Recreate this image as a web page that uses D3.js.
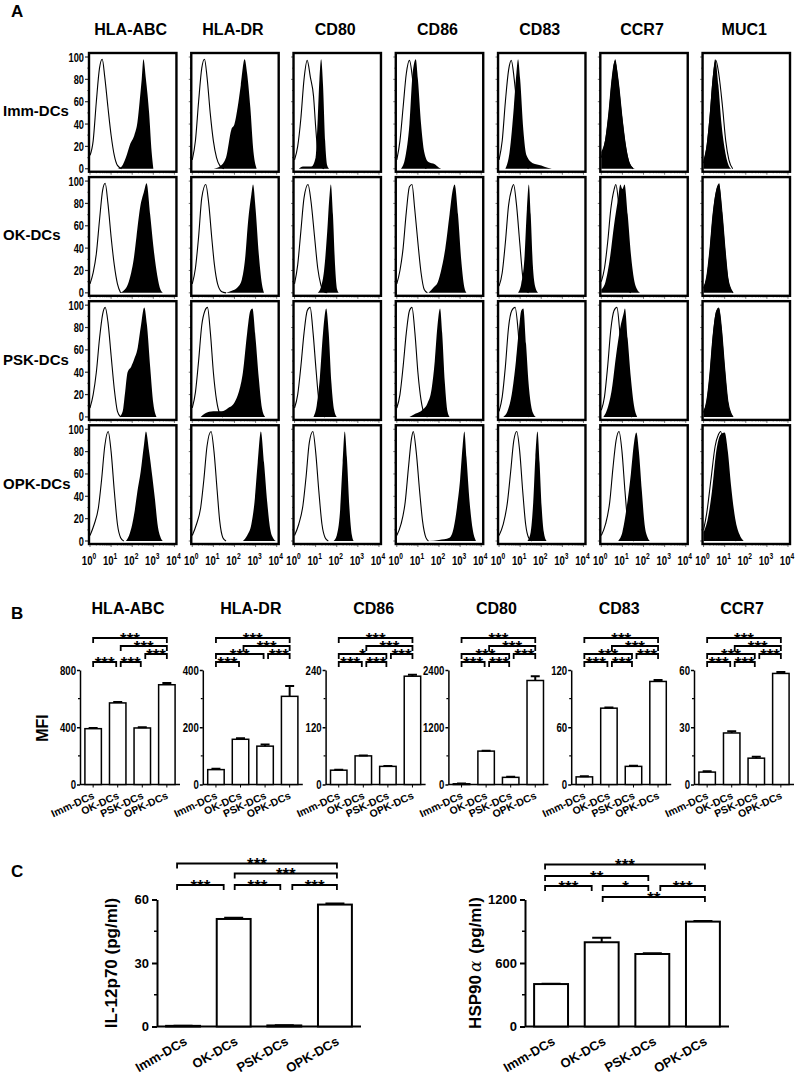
<!DOCTYPE html>
<html>
<head>
<meta charset="utf-8">
<script src="https://cdn.jsdelivr.net/npm/d3@7"></script>
<style>
  body { margin: 0; background: #fff; }
  svg { display: block; }
  text { fill: #000; }
</style>
</head>
<body>
<div id="container"></div>
<script>
const groups = ["Imm-DCs", "OK-DCs", "PSK-DCs", "OPK-DCs"];
const histMarkers = ["HLA-ABC", "HLA-DR", "CD80", "CD86", "CD83", "CCR7", "MUC1"];

// flow histograms: [log10 intensity, % of max]
// order inside each array follows histMarkers
const immOpen = [
  [[0,12],[0.15,25],[0.3,60],[0.45,90],[0.58,98],[0.7,82],[0.85,55],[1.0,30],[1.15,12],[1.3,3],[1.5,0]],
  [[0,8],[0.15,25],[0.3,60],[0.45,90],[0.58,98],[0.7,82],[0.85,50],[1.0,25],[1.15,10],[1.3,3],[1.5,0]],
  [[0,8],[0.15,20],[0.3,45],[0.45,80],[0.6,97],[0.75,82],[0.9,65],[1.0,38],[1.1,15],[1.25,2],[1.4,0]],
  [[0,8],[0.15,25],[0.3,55],[0.45,85],[0.6,97],[0.75,80],[0.9,50],[1.05,20],[1.2,5],[1.4,0]],
  [[0,8],[0.15,25],[0.3,60],[0.45,88],[0.58,97],[0.72,80],[0.9,45],[1.05,15],[1.2,4],[1.4,0]],
  [[0,10],[0.2,25],[0.35,48],[0.5,78],[0.64,96],[0.8,78],[1.0,42],[1.15,20],[1.3,6],[1.5,0]],
  [[0,5],[0.15,18],[0.3,45],[0.45,80],[0.58,97],[0.72,85],[0.9,55],[1.05,25],[1.2,8],[1.38,0]]
];
const immFill = [
  [[1.3,0],[1.5,2],[1.7,10],[1.9,22],[2.1,30],[2.25,42],[2.35,60],[2.45,80],[2.53,98],[2.65,80],[2.8,50],[2.92,15],[3.0,0]],
  [[1.0,0],[1.3,2],[1.6,10],[1.85,35],[2.0,40],[2.15,55],[2.3,75],[2.48,98],[2.6,85],[2.75,55],[2.9,15],[3.05,0]],
  [[0.2,0],[0.4,2],[0.8,2],[1.0,10],[1.1,45],[1.18,80],[1.26,98],[1.35,75],[1.45,25],[1.55,3],[1.65,0]],
  [[0.2,0],[0.4,10],[0.6,40],[0.75,85],[0.9,98],[1.0,80],[1.15,40],[1.3,15],[1.5,6],[1.8,4],[2.0,1],[2.1,0]],
  [[0.3,0],[0.5,15],[0.7,55],[0.82,85],[0.9,98],[1.0,80],[1.15,35],[1.3,12],[1.6,5],[2.0,3],[2.3,1],[2.5,0]],
  [[0,15],[0.2,28],[0.35,50],[0.5,80],[0.66,98],[0.8,80],[1.0,45],[1.15,22],[1.3,8],[1.5,1],[1.6,0]],
  [[0,8],[0.15,22],[0.3,50],[0.45,85],[0.55,98],[0.7,75],[0.85,40],[1.0,18],[1.15,5],[1.3,0]]
];
const okOpen = [
  [[0,8],[0.15,18],[0.3,35],[0.45,65],[0.6,92],[0.72,98],[0.85,80],[1.0,50],[1.15,25],[1.3,8],[1.45,0]],
  [[0,8],[0.15,22],[0.3,50],[0.45,85],[0.64,97],[0.78,80],[0.92,50],[1.05,25],[1.2,8],[1.4,1],[1.6,0]],
  [[0,8],[0.15,25],[0.3,55],[0.45,85],[0.64,97],[0.78,82],[0.95,50],[1.1,22],[1.25,7],[1.4,1],[1.55,0]],
  [[0,8],[0.15,20],[0.3,40],[0.45,72],[0.6,95],[0.72,97],[0.85,75],[1.0,45],[1.15,18],[1.3,3],[1.45,0]],
  [[0,6],[0.15,18],[0.3,45],[0.45,78],[0.6,93],[0.69,97],[0.82,80],[0.98,45],[1.12,15],[1.25,3],[1.4,0]],
  [[0,10],[0.15,22],[0.3,45],[0.45,75],[0.6,92],[0.69,97],[0.82,80],[0.98,45],[1.12,15],[1.25,3],[1.4,0]],
  [[0,4],[0.15,14],[0.3,38],[0.45,70],[0.6,90],[0.72,96],[0.88,70],[1.02,38],[1.15,13],[1.3,3],[1.4,0]]
];
const okFill = [
  [[1.4,0],[1.6,2],[1.8,8],[1.95,18],[2.07,30],[2.2,50],[2.38,77],[2.55,90],[2.68,98],[2.85,70],[3.0,42],[3.14,21],[3.3,5],[3.45,0]],
  [[1.6,0],[1.9,2],[2.15,5],[2.35,12],[2.5,30],[2.65,65],[2.8,88],[2.88,97],[3.0,75],[3.15,35],[3.3,8],[3.4,0]],
  [[1.1,0],[1.25,5],[1.4,20],[1.55,55],[1.65,85],[1.72,97],[1.82,70],[1.92,25],[2.02,3],[2.1,0]],
  [[1.5,0],[1.75,5],[1.95,10],[2.1,20],[2.3,40],[2.5,70],[2.65,92],[2.74,97],[2.9,70],[3.05,30],[3.2,5],[3.3,0]],
  [[0.9,0],[1.05,8],[1.2,30],[1.32,75],[1.41,97],[1.5,70],[1.6,25],[1.72,5],[1.85,0]],
  [[0,3],[0.2,10],[0.4,30],[0.6,60],[0.8,85],[0.9,97],[1.0,93],[1.1,97],[1.25,70],[1.4,35],[1.55,12],[1.7,3],[1.85,0]],
  [[0,5],[0.15,15],[0.3,40],[0.45,72],[0.6,92],[0.74,98],[0.88,72],[1.02,40],[1.15,15],[1.28,4],[1.4,0]]
];
const pskOpen = [
  [[0,8],[0.15,20],[0.3,40],[0.45,70],[0.6,92],[0.72,98],[0.85,85],[1.0,55],[1.15,25],[1.3,5],[1.45,0]],
  [[0,8],[0.15,22],[0.3,50],[0.45,82],[0.6,95],[0.72,98],[0.86,75],[1.0,40],[1.15,15],[1.3,3],[1.45,0]],
  [[0,8],[0.15,20],[0.3,45],[0.45,75],[0.6,95],[0.74,98],[0.88,75],[1.02,42],[1.15,15],[1.3,3],[1.45,0]],
  [[0,8],[0.15,20],[0.3,45],[0.45,75],[0.6,95],[0.72,98],[0.86,75],[1.0,40],[1.15,15],[1.3,3],[1.45,0]],
  [[0,5],[0.15,18],[0.3,45],[0.45,80],[0.6,95],[0.76,98],[0.9,78],[1.02,45],[1.15,15],[1.28,3],[1.4,0]],
  [[0,6],[0.15,18],[0.3,45],[0.45,78],[0.6,95],[0.74,98],[0.88,75],[1.02,42],[1.15,15],[1.3,3],[1.45,0]],
  [[0,4],[0.15,14],[0.3,38],[0.45,72],[0.6,93],[0.72,97],[0.85,78],[1.0,43],[1.15,14],[1.3,3],[1.4,0]]
];
const pskFill = [
  [[1.4,0],[1.55,5],[1.65,20],[1.78,40],[1.95,45],[2.1,52],[2.24,60],[2.4,80],[2.57,98],[2.7,82],[2.85,45],[3.0,12],[3.15,0]],
  [[0.4,0],[0.6,3],[1.0,5],[1.4,5],[1.7,8],[2.0,13],[2.2,22],[2.4,40],[2.6,75],[2.75,95],[2.85,97],[3.0,70],[3.15,35],[3.3,8],[3.45,0]],
  [[0.9,0],[1.05,10],[1.2,35],[1.35,75],[1.5,97],[1.62,75],[1.75,30],[1.88,6],[2.0,0]],
  [[0.6,0],[0.9,3],[1.2,6],[1.45,12],[1.65,25],[1.8,50],[1.92,80],[2.05,97],[2.15,75],[2.28,30],[2.4,5],[2.5,0]],
  [[0.2,0],[0.4,5],[0.6,20],[0.8,50],[0.95,80],[1.05,95],[1.15,97],[1.28,65],[1.4,30],[1.52,10],[1.65,2],[1.75,0]],
  [[0.1,0],[0.3,8],[0.5,25],[0.7,55],[0.9,80],[1.05,92],[1.12,97],[1.25,70],[1.4,35],[1.55,10],[1.7,0]],
  [[0,5],[0.15,15],[0.3,40],[0.45,75],[0.6,95],[0.72,98],[0.85,80],[1.0,45],[1.15,15],[1.3,3],[1.4,0]]
];
const opkOpen = [
  [[0,5],[0.2,15],[0.4,30],[0.55,55],[0.7,85],[0.86,98],[1.0,80],[1.15,45],[1.3,15],[1.45,3],[1.6,0]],
  [[0,5],[0.2,15],[0.4,30],[0.55,55],[0.7,85],[0.89,98],[1.03,80],[1.18,45],[1.3,18],[1.45,3],[1.6,0]],
  [[0,5],[0.2,15],[0.4,32],[0.55,58],[0.7,88],[0.87,98],[1.0,80],[1.15,45],[1.3,15],[1.45,3],[1.6,0]],
  [[0,5],[0.2,15],[0.4,35],[0.55,65],[0.7,92],[0.78,98],[0.92,80],[1.08,45],[1.22,18],[1.38,3],[1.5,0]],
  [[0,5],[0.2,15],[0.4,35],[0.55,62],[0.7,90],[0.84,98],[0.98,80],[1.12,45],[1.26,15],[1.4,3],[1.55,0]],
  [[0,5],[0.2,15],[0.4,35],[0.55,65],[0.7,90],[0.84,98],[0.98,80],[1.12,45],[1.26,15],[1.4,3],[1.55,0]],
  [[0,10],[0.15,25],[0.35,55],[0.55,85],[0.7,95],[0.81,98],[0.95,80],[1.1,45],[1.25,18],[1.4,5],[1.55,0]]
];
const opkFill = [
  [[1.7,0],[1.85,5],[2.0,15],[2.1,25],[2.25,45],[2.4,62],[2.55,85],[2.65,98],[2.8,80],[2.95,58],[3.08,37],[3.2,15],[3.35,3],[3.45,0]],
  [[2.4,0],[2.6,5],[2.8,15],[2.95,35],[3.1,70],[3.25,98],[3.4,70],[3.55,35],[3.7,10],[3.85,2],[3.95,0]],
  [[1.85,0],[2.0,5],[2.15,25],[2.28,70],[2.38,98],[2.48,75],[2.6,30],[2.72,5],[2.8,0]],
  [[1.5,0],[2.0,1],[2.5,3],[2.7,12],[2.85,30],[3.0,55],[3.12,85],[3.2,98],[3.3,75],[3.45,35],[3.6,10],[3.75,0]],
  [[1.35,0],[1.5,8],[1.62,35],[1.72,75],[1.82,98],[1.92,70],[2.02,30],[2.12,8],[2.25,0]],
  [[0.8,0],[1.0,8],[1.2,30],[1.4,60],[1.55,88],[1.66,97],[1.78,80],[1.92,45],[2.05,15],[2.2,3],[2.3,0]],
  [[0,8],[0.2,20],[0.4,45],[0.6,80],[0.8,95],[1.0,97],[1.15,80],[1.3,50],[1.5,20],[1.7,6],[1.9,0]]
];
const histOpen = [immOpen, okOpen, pskOpen, opkOpen];
const histFill = [immFill, okFill, pskFill, opkFill];

// panel B: MFI bar charts
const mfiMarkers = ["HLA-ABC", "HLA-DR", "CD86", "CD80", "CD83", "CCR7"];
const mfiMax = [800, 400, 240, 2400, 120, 60];
const mfiMean = [
  [390, 570, 395, 697],
  [52, 158, 134, 308],
  [30, 60, 38, 227],
  [15, 700, 150, 2180],
  [8, 80, 19, 108],
  [6.5, 27, 13.8, 58.2]
];
const mfiErr = [
  [5, 6, 5, 12],
  [3, 4, 6, 36],
  [1, 1, 1, 3],
  [5, 10, 10, 90],
  [0.6, 0.8, 0.6, 1.5],
  [0.4, 0.9, 0.7, 0.8]
];
// [from, to, label, level]
const mfiSig = [
  [[0,3,"***",0],[1,3,"***",1],[2,3,"***",2],[0,1,"***",3],[1,2,"***",3]],
  [[0,3,"***",0],[1,3,"***",1],[0,2,"***",2],[2,3,"***",2],[0,1,"***",3]],
  [[0,3,"***",0],[1,3,"***",1],[0,2,"*",2],[2,3,"***",2],[0,1,"***",3],[1,2,"***",3]],
  [[0,3,"***",0],[1,3,"***",1],[0,2,"***",2],[2,3,"***",2],[0,1,"***",3],[1,2,"***",3]],
  [[0,3,"***",0],[1,3,"***",1],[0,2,"***",2],[2,3,"***",2],[0,1,"***",3],[1,2,"***",3]],
  [[0,3,"***",0],[1,3,"***",1],[0,2,"***",2],[2,3,"***",2],[0,1,"***",3],[1,2,"***",3]]
];

// panel C: cytokines
const il12Mean = [0.3, 50.8, 0.5, 57.6];
const il12Err = [0.1, 0.6, 0.1, 0.5];
const il12Sig = [[0,3,"***",0],[1,3,"***",1],[0,1,"***",2],[1,2,"***",2],[2,3,"***",2]];
const hspMean = [401, 796, 685, 991];
const hspErr = [4, 42, 6, 5];
const hspSig = [[0,3,"***",0],[0,2,"**",1],[0,1,"***",2],[1,2,"*",2],[2,3,"***",2],[1,3,"**",3]];

const width = 800, height = 1078;
const squeeze = 0.74; // condensed look of the tick numbers

const svg = d3.select("#container").append("svg")
  .attr("width", width)
  .attr("height", height)
  .style("font-family", "Arial, 'Liberation Sans', sans-serif");

[["A", 17], ["B", 619], ["C", 877]].forEach(([t, y]) => {
  svg.append("text").attr("x", 11).attr("y", y)
    .attr("font-size", 17).attr("font-weight", "bold").text(t);
});

// ---------------- A: histograms ----------------
const col = d3.scaleBand().domain(histMarkers).range([89, 790]).paddingInner(0.145);
const row = d3.scaleBand().domain(groups).range([53, 544]).paddingInner(0.043);
const bw = col.bandwidth(), bh = row.bandwidth();
const hx = d3.scaleLinear().domain([0, 4]).range([1, bw - 2]);
const hy = d3.scaleLinear().domain([0, 100]).range([bh - 3, 4]);
const area = d3.area().x(d => hx(d[0])).y0(hy(0)).y1(d => hy(d[1])).curve(d3.curveMonotoneX);
const line = d3.line().x(d => hx(d[0])).y(d => hy(d[1])).curve(d3.curveMonotoneX);

histMarkers.forEach(m => {
  svg.append("text")
    .attr("x", col(m) + bw / 2 - 2).attr("y", 35)
    .attr("text-anchor", "middle")
    .attr("font-size", 16).attr("font-weight", "bold")
    .text(m);
});

groups.forEach((grp, r) => {
  svg.append("text")
    .attr("x", 3).attr("y", row(grp) + bh / 2 + 4)
    .attr("font-size", 15).attr("font-weight", "bold")
    .text(grp);

  histMarkers.forEach((m, c) => {
    const g = svg.append("g").attr("transform", `translate(${col(m)},${row(grp)})`);

    g.append("path").datum(histFill[r][c]).attr("d", area).attr("fill", "#000");
    g.append("path").datum(histOpen[r][c]).attr("d", line)
      .attr("fill", "none").attr("stroke", "#000").attr("stroke-width", 1.1);

    // small ticks on left and bottom edges
    const big = c === 0;
    g.selectAll(".yt").data(d3.range(0, 101, 10)).join("line")
      .attr("x1", 0).attr("x2", d => (d % 20 ? -1.5 : (big ? -4 : -2.5)))
      .attr("y1", d => hy(d)).attr("y2", d => hy(d))
      .attr("stroke", "#333").attr("stroke-width", big ? 1.2 : 0.7);
    const xt = [];
    for (let k = 0; k < 4; k++) for (let j = 1; j < 10; j++) xt.push({ v: k + Math.log10(j), major: j === 1 });
    xt.push({ v: 4, major: true });
    g.selectAll(".xt").data(xt).join("line")
      .attr("x1", d => hx(d.v)).attr("x2", d => hx(d.v))
      .attr("y1", bh).attr("y2", d => bh + (d.major ? 3 : 1.5))
      .attr("stroke", "#333").attr("stroke-width", 0.7);

    if (big) {
      g.selectAll(".yl").data(d3.range(0, 101, 20)).join("text")
        .attr("transform", d => `translate(-5,${hy(d) + 4.5}) scale(${squeeze},1)`)
        .attr("text-anchor", "end")
        .attr("font-weight", "bold").attr("font-size", 12.5)
        .text(d => d);
    }
    if (r === groups.length - 1) {
      const lab = g.selectAll(".xl").data(d3.range(0, 5)).join("text")
        .attr("transform", d => `translate(${hx(d) - 1},${bh + 21}) scale(${squeeze},1)`)
        .attr("text-anchor", "middle")
        .attr("font-weight", "bold").attr("font-size", 13);
      lab.append("tspan").text("10");
      lab.append("tspan").attr("dy", -6).attr("font-size", 9).text(d => d);
    }

    g.append("rect").attr("width", bw).attr("height", bh)
      .attr("fill", "none").attr("stroke", "#000").attr("stroke-width", 2.4);
  });
});

// ---------------- shared helpers ----------------
function bracket(g, x1, x2, y, label, leg) {
  g.append("path")
    .attr("d", `M${x1},${y + leg}V${y}H${x2}V${y + leg}`)
    .attr("fill", "none").attr("stroke", "#000").attr("stroke-width", 1.8);
  g.append("text")
    .attr("x", (x1 + x2) / 2).attr("y", y + 6.5)
    .attr("text-anchor", "middle").attr("font-size", 17)
    .attr("font-weight", "bold")
    .attr("fill", "#000")
    .text(label);
}

function squeezeAxisText(ax, size, weight) {
  ax.selectAll(".tick text").each(function () {
    const t = d3.select(this);
    const x = +t.attr("x"), dy = t.attr("dy");
    t.attr("x", null).attr("dy", dy)
      .attr("transform", `translate(${x},0) scale(${squeeze},1)`);
  }).attr("font-weight", weight).attr("font-size", size).attr("fill", "#000");
}

// ---------------- B: MFI ----------------
const bLeft = d3.scalePoint().domain(mfiMarkers).range([80, 694]);
const bLevels = [638, 646, 654, 662];
const xB = d3.scaleBand().domain(groups).range([0, 100]).paddingInner(0.33).paddingOuter(0.2);

svg.append("text")
  .attr("transform", "translate(48,728) rotate(-90)")
  .attr("text-anchor", "middle").attr("font-size", 16).attr("font-weight", "bold")
  .text("MFI");

mfiMarkers.forEach((m, i) => {
  const g = svg.append("g").attr("transform", `translate(${bLeft(m)},0)`);
  const yB = d3.scaleLinear().domain([0, mfiMax[i]]).range([784.5, 670]);
  const cx = k => xB(groups[k]) + xB.bandwidth() / 2;

  g.append("text").attr("x", 48).attr("y", 614)
    .attr("text-anchor", "middle").attr("font-size", 16).attr("font-weight", "bold")
    .text(m);

  const ax = g.append("g").call(
    d3.axisLeft(yB).tickValues([0, mfiMax[i] / 2, mfiMax[i]]).tickFormat(d3.format("d"))
      .tickSize(3).tickSizeOuter(0).tickPadding(1)
  );
  ax.select(".domain").attr("stroke-width", 1.5);
  ax.selectAll(".tick line").attr("stroke-width", 1.5);
  squeezeAxisText(ax, 13, "bold");
  g.selectAll(".minor").data([mfiMax[i] / 4, mfiMax[i] * 3 / 4]).join("line")
    .attr("x1", 0).attr("x2", -2).attr("y1", d => yB(d)).attr("y2", d => yB(d))
    .attr("stroke", "#000").attr("stroke-width", 1.2);

  g.append("line").attr("x1", 0).attr("x2", 100).attr("y1", yB(0)).attr("y2", yB(0))
    .attr("stroke", "#000").attr("stroke-width", 1.5);
  g.selectAll(".xtick").data(groups).join("line")
    .attr("x1", (d, k) => cx(k)).attr("x2", (d, k) => cx(k))
    .attr("y1", yB(0)).attr("y2", yB(0) + 3)
    .attr("stroke", "#000").attr("stroke-width", 1);

  g.selectAll(".bar").data(mfiMean[i]).join("rect")
    .attr("x", (d, k) => xB(groups[k])).attr("width", xB.bandwidth())
    .attr("y", d => yB(d)).attr("height", d => yB(0) - yB(d))
    .attr("fill", "#fff").attr("stroke", "#000").attr("stroke-width", 1.5);

  mfiMean[i].forEach((v, k) => {
    const top = yB(v + mfiErr[i][k]);
    g.append("path")
      .attr("d", `M${cx(k)},${yB(v)}V${top}M${cx(k) - 4.5},${top}H${cx(k) + 4.5}`)
      .attr("stroke", "#000").attr("stroke-width", 2).attr("fill", "none");
  });

  mfiSig[i].forEach(([a, b, lab, lvl]) => {
    bracket(g, cx(a) + (a > 0 ? 3 : 0), cx(b) - (b < 3 ? 1.5 : 0), bLevels[lvl], lab, 5);
  });

  g.selectAll(".xl").data(groups).join("text")
    .attr("transform", (d, k) => `translate(${cx(k) + 2},${798}) rotate(-25)`)
    .attr("text-anchor", "end").attr("font-size", 10.5).attr("font-weight", "bold")
    .text(d => d);
});

// ---------------- C: cytokines ----------------
const xC = d3.scaleBand().domain(groups).range([0, 204]).paddingInner(0.33).paddingOuter(0.18);
const cCharts = [
  { left: 157, max: 60, mean: il12Mean, err: il12Err, sig: il12Sig, levels: [863.5, 873.5, 885], label: ["IL-12p70 (pg/ml)"], lx: 117 },
  { left: 525, max: 1200, mean: hspMean, err: hspErr, sig: hspSig, levels: [864.5, 876, 886, 897], label: ["HSP90", "α", " (pg/ml)"], lx: 481 }
];

cCharts.forEach(ch => {
  const g = svg.append("g").attr("transform", `translate(${ch.left},0)`);
  const yC = d3.scaleLinear().domain([0, ch.max]).range([1026.5, 899.5]);
  const cx = k => xC(groups[k]) + xC.bandwidth() / 2;

  const ax = g.append("g").call(
    d3.axisLeft(yC).tickValues([0, ch.max / 2, ch.max]).tickFormat(d3.format("d"))
      .tickSize(5).tickSizeOuter(0).tickPadding(3)
  );
  ax.select(".domain").attr("stroke-width", 2);
  ax.selectAll(".tick line").attr("stroke-width", 2);
  ax.selectAll("text").attr("font-weight", "bold").attr("font-size", 13).attr("fill", "#000")
    .attr("font-family", "Arial, 'Liberation Sans', sans-serif");
  g.selectAll(".minor").data([ch.max / 4, ch.max * 3 / 4]).join("line")
    .attr("x1", 0).attr("x2", -3).attr("y1", d => yC(d)).attr("y2", d => yC(d))
    .attr("stroke", "#000").attr("stroke-width", 1.5);
  g.append("line").attr("x1", 0).attr("x2", 204).attr("y1", yC(0)).attr("y2", yC(0))
    .attr("stroke", "#000").attr("stroke-width", 2);

  g.selectAll(".bar").data(ch.mean).join("rect")
    .attr("x", (d, k) => xC(groups[k])).attr("width", xC.bandwidth())
    .attr("y", d => yC(d)).attr("height", d => yC(0) - yC(d))
    .attr("fill", "#fff").attr("stroke", "#000").attr("stroke-width", 2);

  ch.mean.forEach((v, k) => {
    const top = yC(v + ch.err[k]);
    g.append("path")
      .attr("d", `M${cx(k)},${yC(v)}V${top}M${cx(k) - 9.5},${top}H${cx(k) + 9.5}`)
      .attr("stroke", "#000").attr("stroke-width", 2).attr("fill", "none");
  });

  ch.sig.forEach(([a, b, lab, lvl]) => {
    bracket(g, cx(a) - 6 + 7 * a, cx(b) - 16 + 6 * b, ch.levels[lvl], lab, 5);
  });

  g.selectAll(".xl").data(groups).join("text")
    .attr("transform", (d, k) => `translate(${cx(k) + 5},1044) rotate(-30)`)
    .attr("text-anchor", "end").attr("font-size", 13).attr("font-weight", "bold")
    .text(d => d);

  const yl = svg.append("text")
    .attr("transform", `translate(${ch.lx},963) rotate(-90)`)
    .attr("text-anchor", "middle").attr("font-size", 17).attr("font-weight", "bold");
  yl.append("tspan").text(ch.label[0]);
  if (ch.label.length > 1) {
    yl.append("tspan").attr("dx", 3).attr("font-weight", "normal").attr("font-style", "italic")
      .attr("font-family", "'DejaVu Serif', serif").text(ch.label[1]);
    yl.append("tspan").attr("dx", 2).text(ch.label[2]);
  }
});
</script>
</body>
</html>
